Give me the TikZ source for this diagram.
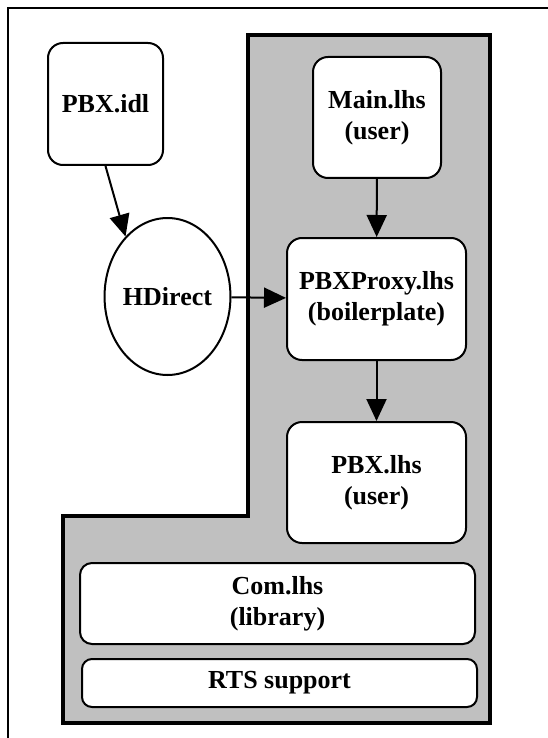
\documentclass[tikz,border=0pt]{standalone}
\usepackage{fontspec}
\setmainfont{Liberation Serif}
\usetikzlibrary{shapes.geometric,arrows.meta}
\definecolor{regiongray}{RGB}{192,192,192}

\begin{document}
\begin{tikzpicture}[x=1pt, y=-1pt,
    file/.style={draw, line width=2pt, fill=white, rounded corners=15pt, align=center, inner sep=0pt, font=\fontsize{26}{31}\selectfont\bfseries},
    tool/.style={draw, ellipse, line width=2pt, fill=white, inner sep=0pt, font=\fontsize{26}{31}\selectfont\bfseries},
    flow/.style={-{Triangle[length=22pt,width=20pt]}, line width=2pt}]
  \clip (0,0) rectangle (548,738);
  \draw[line width=2pt] (8,8) rectangle (560,750);
  % shaded region
  \draw[line width=4pt, fill=regiongray] (248,35) -- (490,35) -- (490,723) -- (63,723) -- (63,516) -- (248,516) -- cycle;

  \node[file, minimum width=115pt, minimum height=122pt] (idl) at (105.5,104) {PBX.idl};
  \node[file, minimum width=128pt, minimum height=121pt] (main) at (377,117.5) {Main.lhs\\(user)};
  \node[tool, minimum width=125pt, minimum height=157pt] (hdirect) at (167.5,296.5) {HDirect};
  \node[file, minimum width=179pt, minimum height=122pt] (proxy) at (376.5,299) {PBXProxy.lhs\\(boilerplate)};
  \node[file, minimum width=179pt, minimum height=121pt] (pbx) at (376.5,482.5) {PBX.lhs\\(user)};
  \node[file, minimum width=395pt, minimum height=81pt, rounded corners=12pt] (com) at (277.5,603.5) {Com.lhs\\(library)};
  \node[file, minimum width=395pt, minimum height=48pt, rounded corners=10pt] (rts) at (279.5,683) {RTS support};

  \draw[flow] (idl.south) -- (hdirect.125);
  \draw[flow] (hdirect) -- (proxy);
  \draw[flow] (main) -- (proxy);
  \draw[flow] (proxy) -- (pbx);
\end{tikzpicture}
\end{document}
